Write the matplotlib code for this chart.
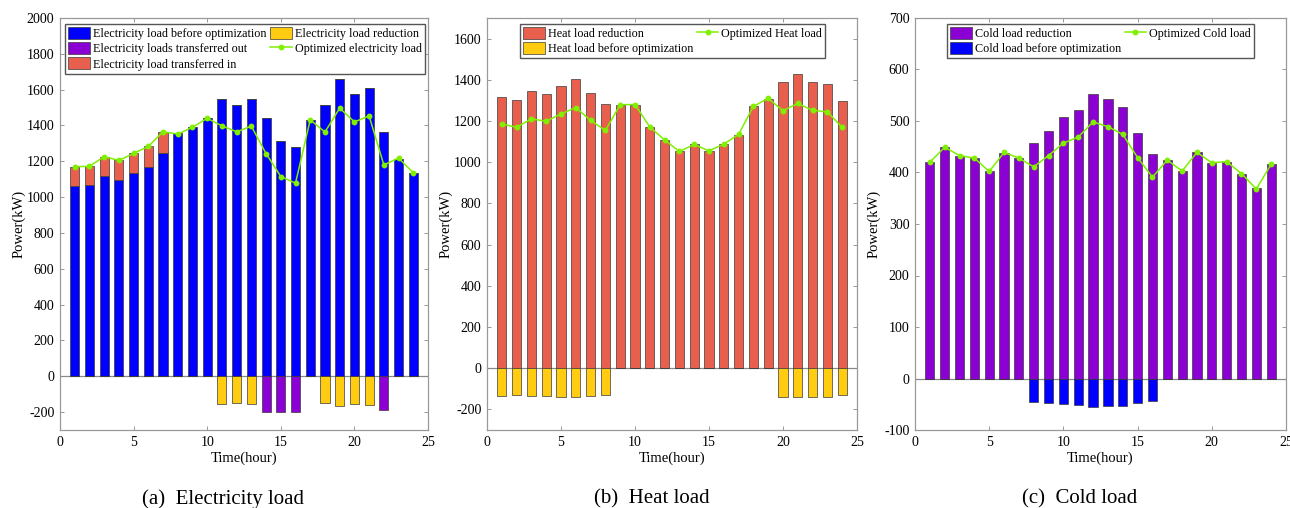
#%% imports

import numpy as np
import matplotlib
matplotlib.use('Agg')
import matplotlib.pyplot as plt
from matplotlib.patches import Patch
from matplotlib.lines import Line2D

plt.rcParams['font.family'] = ['Liberation Serif', 'DejaVu Serif']
plt.rcParams['font.size'] = 10
plt.rcParams['axes.unicode_minus'] = False

#%% data

hours = list(range(1, 25))

# electricity
elec_before = [1062, 1068, 1116, 1098, 1134, 1170, 1244, 1357, 1393, 1441, 1550, 1515, 1550, 1441,
               1311, 1278, 1428, 1513, 1662, 1575, 1612, 1365, 1214, 1134]
elec_in = [108, 104, 110, 107, 110, 113, 121, 0, 0, 0, 0, 0, 0, 0,
           0, 0, 0, 0, 0, 0, 0, 0, 0, 0]
elec_reduction = [0, 0, 0, 0, 0, 0, 0, 0, 0, 0, -154, -150, -154, 0,
                  0, 0, 0, -150, -167, -157, -161, 0, 0, 0]
elec_out = [0, 0, 0, 0, 0, 0, 0, 0, 0, 0, 0, 0, 0, -200,
            -200, -200, 0, 0, 0, 0, 0, -187, 0, 0]
elec_opt = [1170, 1172, 1226, 1205, 1244, 1283, 1365, 1352, 1390, 1440, 1398, 1365, 1396, 1243,
            1115, 1078, 1432, 1363, 1497, 1420, 1453, 1180, 1218, 1136]

# heat
heat_pos = [1316, 1300, 1345, 1330, 1370, 1404, 1337, 1282, 1277, 1279, 1171, 1108, 1052, 1088,
            1054, 1086, 1134, 1271, 1309, 1388, 1428, 1391, 1382, 1298]
heat_neg = [-133, -130, -136, -134, -138, -141, -134, -130, 0, 0, 0, 0, 0, 0,
            0, 0, 0, 0, 0, -139, -142, -141, -138, -130]
heat_opt = [1185, 1170, 1210, 1199, 1234, 1265, 1203, 1154, 1279, 1280, 1171, 1108, 1052, 1086,
            1055, 1088, 1135, 1271, 1310, 1250, 1285, 1252, 1244, 1169]

# cold
cold_pos = [420, 449, 433, 428, 403, 438, 428, 457, 481, 508, 521, 553, 543, 527,
            477, 435, 424, 403, 439, 419, 421, 398, 370, 417]
cold_neg = [0, 0, 0, 0, 0, 0, 0, -45, -47, -50, -52, -55, -54, -53,
            -47, -44, 0, 0, 0, 0, 0, 0, 0, 0]
cold_opt = [420, 449, 433, 428, 402, 439, 428, 411, 433, 457, 469, 498, 489, 474,
            429, 391, 424, 403, 439, 419, 421, 398, 368, 416]

#%% style

c_blue = '#0000FF'
c_purple = '#8B00D2'
c_red = '#E8604D'
c_yellow = '#FFCC12'
c_green = '#80F000'
edge = '#3a3a3a'
bw = 0.62


def style_axes(ax, ylim, yticks):
    ax.set_xlim(0, 25)
    ax.set_xticks([0, 5, 10, 15, 20, 25])
    ax.set_ylim(*ylim)
    ax.set_yticks(yticks)
    ax.tick_params(direction='in', top=True, right=True, length=3, width=0.6,
                   color='#888888', labelsize=10, pad=4)
    for s in ax.spines.values():
        s.set_color('#999999')
        s.set_linewidth(0.9)
    ax.axhline(0, color='#8a8a8a', lw=0.9, zorder=1)
    ax.set_xlabel('Time(hour)', fontsize=10.5, labelpad=2)
    ax.set_ylabel('Power(kW)', fontsize=10.5)
    ax.yaxis.set_label_coords(-0.094, 0.5)


def bar(ax, vals, color, bottom=None):
    ax.bar(hours, vals, width=bw, bottom=bottom, color=color, edgecolor=edge,
           linewidth=0.5, zorder=2)


def line(ax, vals):
    ax.plot(hours, vals, color=c_green, lw=1.1, marker='o', ms=3.2, zorder=3)


def patch(color):
    return Patch(facecolor=color, edgecolor=edge, linewidth=0.5)


def legend(ax, handles, labels, x0):
    ax.legend(handles, labels, ncol=2, loc='upper left', bbox_to_anchor=(x0, 0.985),
              fontsize=8.7, frameon=True, fancybox=False, edgecolor='#555555',
              framealpha=1, handlelength=1.8, handleheight=1.15, handletextpad=0.25,
              columnspacing=0.3, labelspacing=0.17, borderpad=0.25, borderaxespad=0)


line_handle = Line2D([], [], color=c_green, lw=1.1, marker='o', ms=3.2)

fig = plt.figure(figsize=(12.9, 5.08), dpi=100)

ax1 = fig.add_axes([60 / 1290, 78 / 508, 368 / 1290, 412 / 508])
ax2 = fig.add_axes([487 / 1290, 78 / 508, 370 / 1290, 412 / 508])
ax3 = fig.add_axes([915 / 1290, 78 / 508, 371 / 1290, 412 / 508])

#%% (a) electricity

bar(ax1, elec_before, c_blue)
bar(ax1, elec_in, c_red, bottom=elec_before)
bar(ax1, elec_reduction, c_yellow)
bar(ax1, elec_out, c_purple)
line(ax1, elec_opt)
style_axes(ax1, (-300, 2000), range(-200, 2001, 200))
legend(ax1, [patch(c_blue), patch(c_purple), patch(c_red), patch(c_yellow), line_handle],
       ['Electricity load before optimization', 'Electricity loads transferred out',
        'Electricity load transferred in', 'Electricity load reduction',
        'Optimized electricity load'], 0.014)

#%% (b) heat

bar(ax2, heat_pos, c_red)
bar(ax2, heat_neg, c_yellow)
line(ax2, heat_opt)
style_axes(ax2, (-300, 1700), range(-200, 1601, 200))
legend(ax2, [patch(c_red), patch(c_yellow), line_handle],
       ['Heat load reduction', 'Heat load before optimization', 'Optimized Heat load'], 0.089)

#%% (c) cold

bar(ax3, cold_pos, c_purple)
bar(ax3, cold_neg, c_blue)
line(ax3, cold_opt)
style_axes(ax3, (-100, 700), range(-100, 701, 100))
legend(ax3, [patch(c_purple), patch(c_blue), line_handle],
       ['Cold load reduction', 'Cold load before optimization', 'Optimized Cold load'], 0.086)

#%% captions

fig.text(223 / 1290, 0.018, '(a)  Electricity load', ha='center', va='center', fontsize=15)
fig.text(652 / 1290, 0.018, '(b)  Heat load', ha='center', va='center', fontsize=15)
fig.text(1080 / 1290, 0.018, '(c)  Cold load', ha='center', va='center', fontsize=15)

fig.savefig('out.png', dpi=100)
